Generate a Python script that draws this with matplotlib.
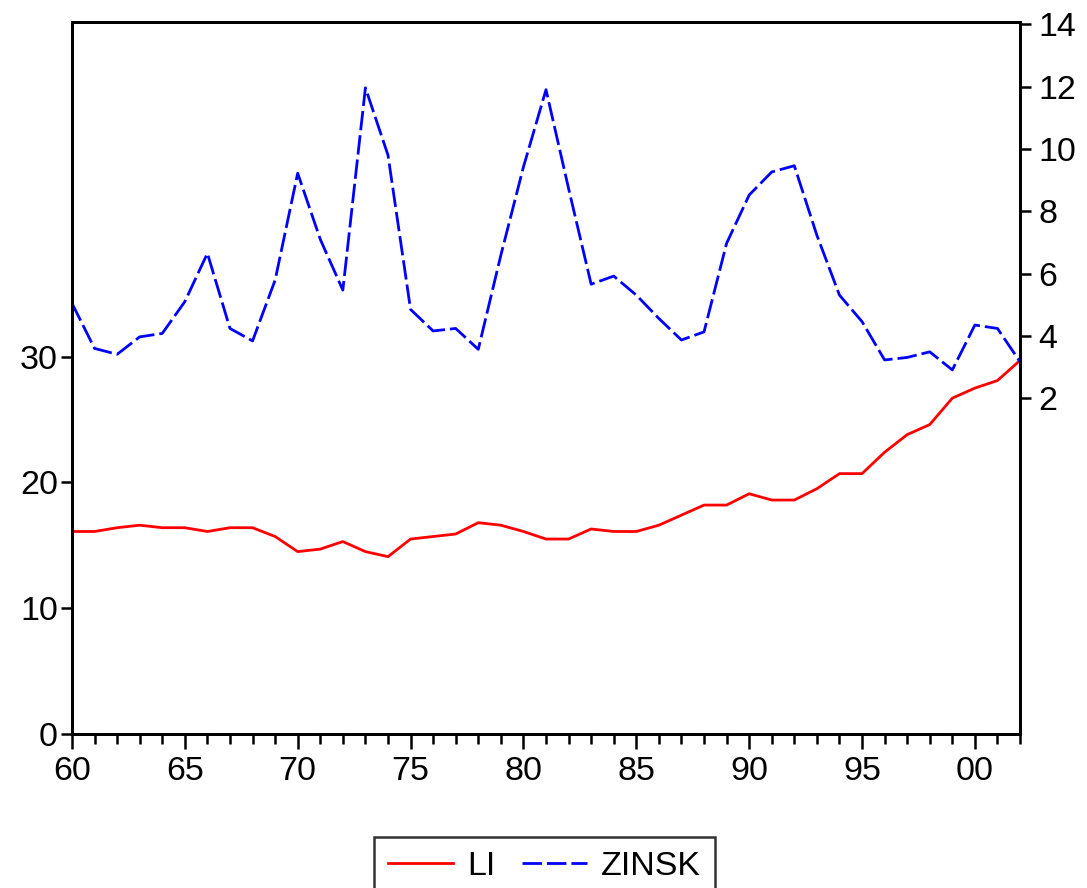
import matplotlib
matplotlib.use("Agg")
import matplotlib.pyplot as plt
import numpy as np
from matplotlib.ticker import MultipleLocator, FixedLocator

plt.rcParams['font.family'] = ['Liberation Sans', 'DejaVu Sans']

years = np.arange(1960, 2003)

# LI, left axis
li = [16.1, 16.1, 16.4, 16.6, 16.4, 16.4, 16.1, 16.4, 16.4, 15.7,
      14.5, 14.7, 15.3, 14.5, 14.1, 15.5, 15.7, 15.9, 16.8, 16.6,
      16.1, 15.5, 15.5, 16.3, 16.1, 16.1, 16.6, 17.4, 18.2, 18.2,
      19.1, 18.6, 18.6, 19.5, 20.7, 20.7, 22.4, 23.8, 24.6, 26.7,
      27.5, 28.1, 29.7]

# ZINSK, right axis
zinsk = [5.05, 3.60, 3.41, 3.97, 4.08, 5.10, 6.65, 4.24, 3.84, 5.79,
         9.22, 7.10, 5.47, 11.96, 9.80, 4.85, 4.16, 4.24, 3.57, 6.59,
         9.42, 11.90, 8.73, 5.66, 5.92, 5.31, 4.56, 3.87, 4.13, 6.97,
         8.52, 9.26, 9.46, 7.23, 5.31, 4.46, 3.23, 3.31, 3.49, 2.91,
         4.35, 4.24, 3.17]

left_ticks = [0, 10, 20, 30]
right_ticks = [2, 4, 6, 8, 10, 12, 14]
xtick_years = [1960, 1965, 1970, 1975, 1980, 1985, 1990, 1995, 2000]
xtick_labels = ['60', '65', '70', '75', '80', '85', '90', '95', '00']

fig = plt.figure(figsize=(10.87, 8.88), dpi=100)
ax = fig.add_axes([0.0662, 0.1734, 0.9384 - 0.0662, 0.9752 - 0.1734])
ax2 = ax.twinx()

l1, = ax.plot(years, li, color='red', lw=2.0, label='LI')
l2, = ax2.plot(years, zinsk, color='blue', lw=2.0,
               linestyle=(0, (7, 1.8)), label='ZINSK')

ax.set_xlim(1960, 2002)
ax.set_ylim(0, 56.6)
ax2.set_ylim(-8.77, 14.07)

ax.yaxis.set_major_locator(FixedLocator(left_ticks))
ax2.yaxis.set_major_locator(FixedLocator(right_ticks))
ax.set_xticks(xtick_years)
ax.set_xticklabels(xtick_labels)
ax.xaxis.set_minor_locator(MultipleLocator(1))

for a in (ax, ax2):
    for s in a.spines.values():
        s.set_linewidth(2.0)
        s.set_color('black')

ax.tick_params(axis='y', which='major', direction='out', length=8, width=1.8,
               labelsize=24.5, pad=2)
ax.tick_params(axis='x', which='major', direction='out', length=11, width=1.8,
               labelsize=24.5, pad=5)
ax.tick_params(axis='x', which='minor', direction='out', length=7, width=1.8)
ax2.tick_params(axis='y', which='major', direction='out', length=8, width=1.8,
                labelsize=24.5, pad=5)

leg = fig.legend([l1, l2], ['LI', 'ZINSK'], loc='upper center',
                 bbox_to_anchor=(0.501, 1 - 837 / 888), ncol=2,
                 fontsize=24.5, frameon=True, fancybox=False, shadow=False,
                 edgecolor='black', handlelength=1.9, handletextpad=0.42,
                 columnspacing=0.8, borderpad=0.4, borderaxespad=0)
leg.get_frame().set_linewidth(1.8)

fig.savefig('out.png', dpi=100)
